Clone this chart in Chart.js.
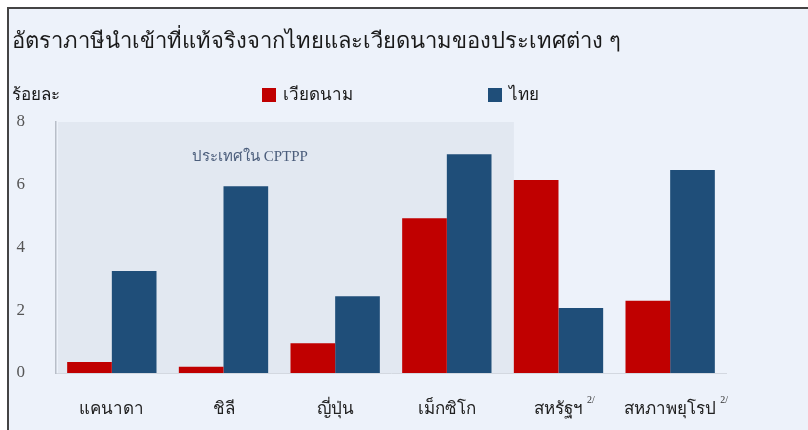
<!DOCTYPE html>
<html lang="th">
<head>
<meta charset="UTF-8">
<title>อัตราภาษีนำเข้าที่แท้จริง</title>
<script src="https://cdn.jsdelivr.net/npm/chart.js"></script>
<style>
  html, body { margin: 0; padding: 0; background: #ffffff; }
  #wrap { position: relative; width: 808px; height: 430px; }
</style>
</head>
<body>
<div id="wrap">
  <canvas id="graphique" width="808" height="430"></canvas>
</div>
<script>
  const titre = "อัตราภาษีนำเข้าที่แท้จริงจากไทยและเวียดนามของประเทศต่าง ๆ";
  const unite = "ร้อยละ";
  const pays = ["แคนาดา", "ชิลี", "ญี่ปุ่น", "เม็กซิโก", "สหรัฐฯ", "สหภาพยุโรป"];
  const notes = ["", "", "", "", "2/", "2/"];
  const vietnam = [0.35, 0.2, 0.95, 4.93, 6.15, 2.3];
  const thai = [3.25, 5.95, 2.45, 6.97, 2.07, 6.47];
  const yTicks = [0, 2, 4, 6, 8];
  const zoneLabel = "ประเทศใน CPTPP";

  const THAI_FONT = "'Noto Sans', 'DejaVu Sans', sans-serif";
  const SERIF = "'Liberation Serif', 'DejaVu Serif', serif";

  // fond, cadre, titre, légende et zone CPTPP
  const decor = {
    id: "decor",
    beforeDraw(chart) {
      const c = chart.ctx;
      const x = chart.scales.x, y = chart.scales.y;
      c.save();
      c.fillStyle = "#edf2fa";
      c.fillRect(8, 8, 800, 422);
      c.strokeStyle = "#444";
      c.lineWidth = 2;
      c.beginPath();
      c.moveTo(8, 430); c.lineTo(8, 8); c.lineTo(808, 8);
      c.stroke();

      // zone des pays CPTPP
      const x0 = x.left + 2;
      const x1 = x.getPixelForValue(3.6);
      c.fillStyle = "#e2e8f1";
      c.fillRect(x0, y.getPixelForValue(8), x1 - x0, y.getPixelForValue(0) - y.getPixelForValue(8));

      c.fillStyle = "#4c5e7c";
      c.font = "15px " + SERIF;
      c.textBaseline = "middle";
      c.fillText(zoneLabel, 192, 157);

      c.fillStyle = "#1a1a1a";
      c.font = "22px " + THAI_FONT;
      c.fillText(titre, 12, 42);
      c.font = "17px " + THAI_FONT;
      c.fillText(unite, 12, 95);

      const items = [[262, chart.data.datasets[0]], [488, chart.data.datasets[1]]];
      items.forEach(([lx, ds]) => {
        c.fillStyle = ds.backgroundColor;
        c.fillRect(lx, 88, 14, 14);
        c.fillStyle = "#1a1a1a";
        c.fillText(ds.label, lx + 21, 95);
      });
      c.restore();
    },
    afterDraw(chart) {
      const c = chart.ctx;
      const x = chart.scales.x;
      c.save();
      c.fillStyle = "#333";
      notes.forEach((n, i) => {
        if (!n) return;
        c.font = "17px " + THAI_FONT;
        const w = c.measureText(pays[i]).width;
        c.font = "10px " + SERIF;
        c.textBaseline = "middle";
        c.fillText(n, x.getPixelForValue(i) + w / 2 + 4, 400);
      });
      c.restore();
    }
  };

  const ctx = document.getElementById("graphique").getContext("2d");
  new Chart(ctx, {
    type: "bar",
    data: {
      labels: pays,
      datasets: [
        { label: "เวียดนาม", data: vietnam, backgroundColor: "#c00000" },
        { label: "ไทย", data: thai, backgroundColor: "#1f4e79" }
      ]
    },
    options: {
      responsive: false,
      animation: false,
      layout: { padding: { left: 0, right: 82, top: 122, bottom: 0 } },
      datasets: { bar: { categoryPercentage: 0.8, barPercentage: 1.0 } },
      plugins: {
        legend: { display: false },
        tooltip: { enabled: false }
      },
      scales: {
        x: {
          grid: { display: false, drawTicks: false },
          border: { display: true, color: "#d3d8e0", width: 1 },
          ticks: { color: "#222", font: { family: THAI_FONT, size: 17 }, padding: 26, maxRotation: 0 },
          afterFit(s) { s.height = 57; }
        },
        y: {
          min: 0, max: 8,
          afterBuildTicks(s) { s.ticks = yTicks.map(v => ({ value: v })); },
          grid: { display: false, drawTicks: true, tickLength: 7, tickColor: "#b8bec8" },
          border: { display: true, color: "#b8bec8", width: 1.5 },
          ticks: { color: "#555", font: { family: SERIF, size: 17 }, padding: 24 },
          afterFit(s) { s.width = 56; }
        }
      }
    },
    plugins: [decor]
  });
</script>
</body>
</html>
